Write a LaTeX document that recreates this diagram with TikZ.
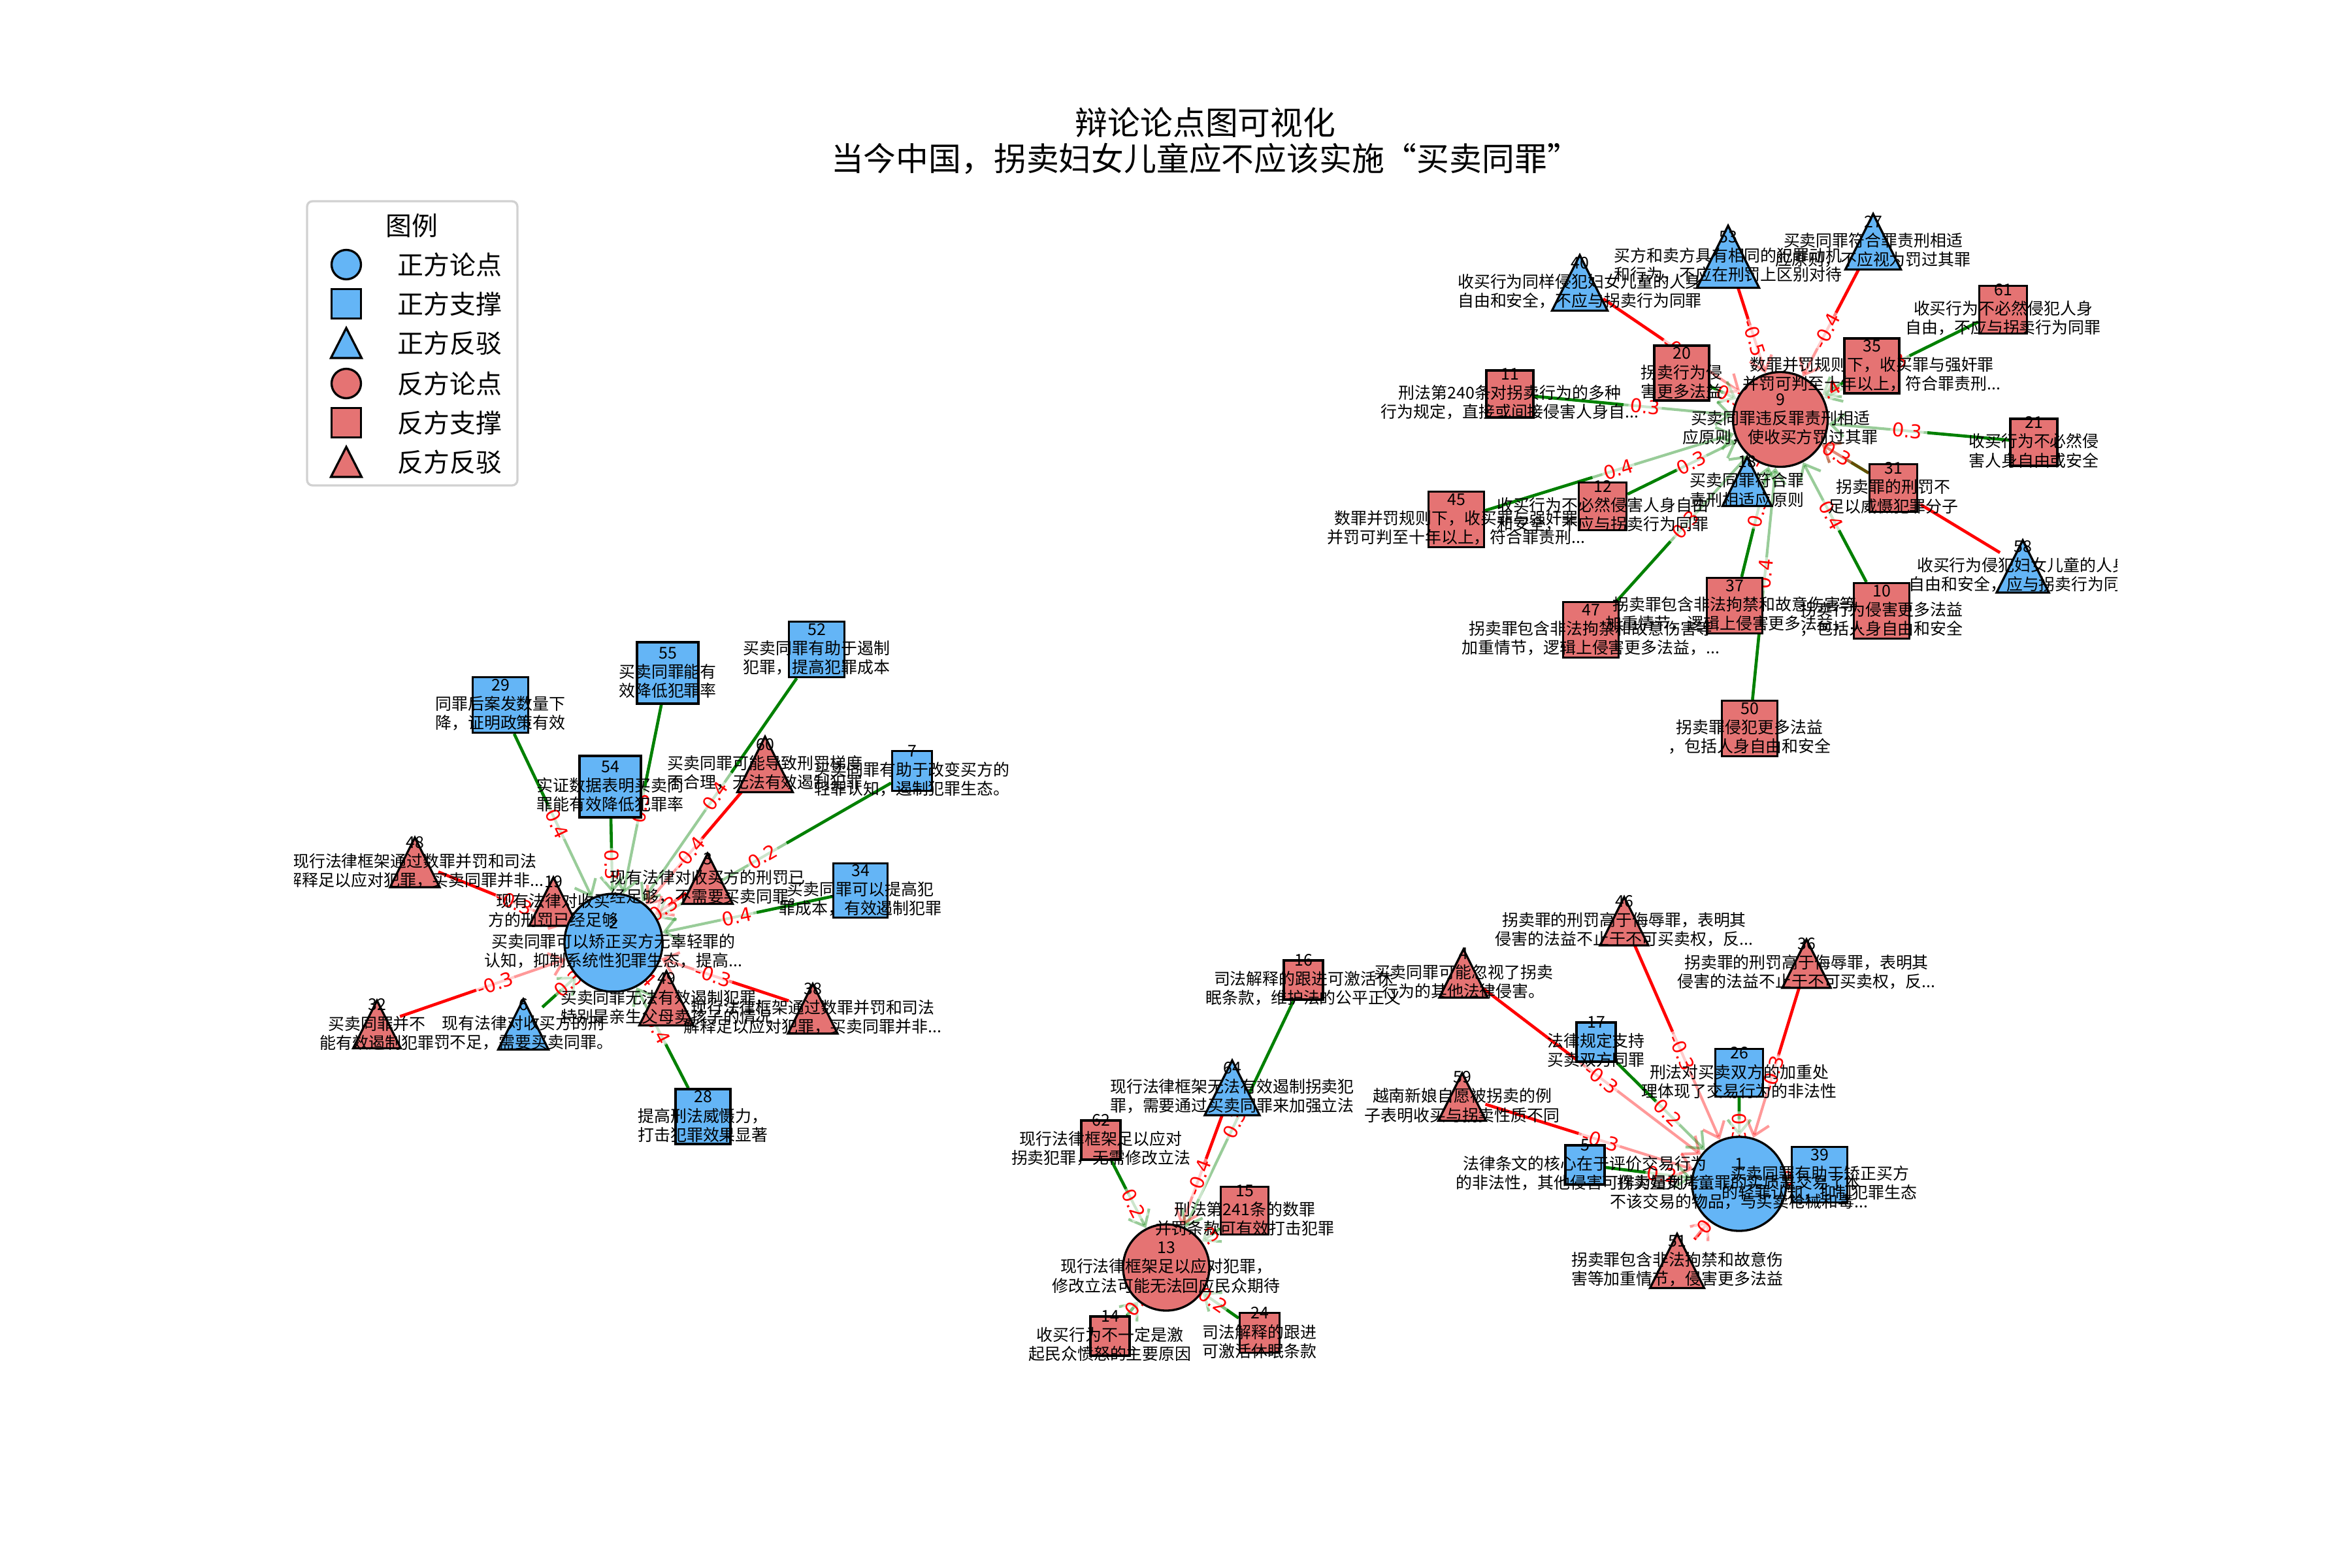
\documentclass[tikz,border=0pt]{standalone}
\usepackage{fontspec}
\setmainfont{DejaVu Sans}
\newfontfamily\cjk{Noto Sans CJK SC}
\usepackage{xcolor}
\usepackage{tikz}
\usetikzlibrary{calc, arrows.meta}

\definecolor{problue}{HTML}{64B5F6}
\definecolor{conred}{HTML}{E57373}
\definecolor{supportgreen}{HTML}{008000}
\definecolor{attackred}{HTML}{FF0000}

\pgfdeclarelayer{edges}
\pgfsetlayers{edges,main}

\tikzset{
	argline/.style={draw=black, line width=0.8pt, line join=miter},
	argbox/.style={argline, rectangle, inner sep=0pt},
	argdisc/.style={argline, circle, inner sep=0pt},
	arghub/.style={circle, inner sep=0pt},
	argtext/.style={font=\cjk\fontsize{6}{7}\selectfont, align=center, inner sep=0pt},
	pale link/.style={line width=1pt, opacity=0.4, -{Straight Barb[length=1.8mm, width=3mm]}},
	dark link/.style={line width=1.1pt},
	link weight/.style={midway, sloped, text=attackred, font=\fontsize{7}{7}\selectfont, inner sep=0.6pt, fill=white, fill opacity=0.5, text opacity=1},
	legend text/.style={font=\cjk\fontsize{9.6}{10}\selectfont, anchor=west, inner sep=0pt}
}

% id, position, size, colour
\newcommand{\sqarg}[4]{\node[argbox, minimum size=#3*\scl, fill=#4] (arg #1) at (#2) {};}
\newcommand{\rdarg}[4]{\node[argdisc, minimum size=#3*\scl, fill=#4] (arg #1) at (#2) {};}
\newcommand{\triarg}[4]{%
	\node[arghub, minimum size=#3*\scl] (arg #1) at (#2) {};
	\filldraw[fill=#4, argline] ($(arg #1)+(0,-#3/2)$) -- ++(#3/2,#3) -- ++(-#3,0) -- cycle;}
% from, to, colour, weight
\newcommand{\argedge}[4]{%
	\draw[#3, pale link] (arg #1) -- (arg #2);
	\draw[#3, dark link] (arg #1) -- ($(arg #1)!0.42!(arg #2)$);
	\path (arg #1.center) -- (arg #2.center) node[link weight] {#4};}
\newcommand{\argtext}[3]{\node[argtext] at (arg #1) {#1\\#2\\#3};}

\begin{document}
\begin{tikzpicture}[x=0.8467cm, y=-0.8467cm]
	\def\scl{0.8467cm}
	\useasboundingbox (0,0) rectangle (36,24);
	
	\node[font=\cjk\fontsize{12}{13.2}\selectfont, align=center] (title) at (18.45,2.16) {辩论论点图可视化\\当今中国，拐卖妇女儿童应不应该实施“买卖同罪”};
	
	% legend
	\draw[draw=black!18, line width=0.8pt, rounded corners=2pt, fill=white] (4.70,3.08) rectangle (7.92,7.43);
	\node[font=\cjk\fontsize{9.6}{10}\selectfont] (legend title) at (6.30,3.45) {图例};
	\node[argdisc, fill=problue, minimum size=0.45*\scl] (key 1) at (5.30,4.05) {};
	\node[argbox, fill=problue, minimum size=0.45*\scl] (key 2) at (5.30,4.65) {};
	\filldraw[fill=problue, argline] (5.30,5.02) -- ++(0.235,0.46) -- ++(-0.47,0) -- cycle;
	\node[argdisc, fill=conred, minimum size=0.45*\scl] (key 4) at (5.30,5.87) {};
	\node[argbox, fill=conred, minimum size=0.45*\scl] (key 5) at (5.30,6.47) {};
	\filldraw[fill=conred, argline] (5.30,6.84) -- ++(0.235,0.46) -- ++(-0.47,0) -- cycle;
	\foreach \y/\txt [count=\i] in {4.05/正方论点, 4.65/正方支撑, 5.25/正方反驳, 5.87/反方论点, 6.47/反方支撑, 7.07/反方反驳}
		\node[legend text] (key text \i) at (6.08,\y) {\txt};
	
	% cluster round 9
	\triarg{40}{24.18,4.33}{0.85}{problue}
	\triarg{53}{26.45,3.93}{0.95}{problue}
	\triarg{27}{28.67,3.70}{0.85}{problue}
	\sqarg{61}{30.66,4.74}{0.73}{conred}
	\sqarg{20}{25.74,5.71}{0.84}{conred}
	\sqarg{35}{28.65,5.60}{0.84}{conred}
	\sqarg{11}{23.11,6.03}{0.72}{conred}
	\rdarg{9}{27.25,6.42}{1.45}{conred}
	\sqarg{21}{31.13,6.77}{0.72}{conred}
	\sqarg{45}{22.29,7.95}{0.85}{conred}
	\sqarg{12}{24.53,7.75}{0.73}{conred}
	\triarg{18}{26.74,7.37}{0.75}{problue}
	\sqarg{31}{28.98,7.47}{0.73}{conred}
	\triarg{58}{30.96,8.67}{0.80}{problue}
	\sqarg{47}{24.35,9.64}{0.85}{conred}
	\sqarg{37}{26.55,9.27}{0.85}{conred}
	\sqarg{10}{28.80,9.35}{0.85}{conred}
	\sqarg{50}{26.78,11.15}{0.85}{conred}
	
	% cluster round 2
	\sqarg{29}{7.66,10.79}{0.85}{problue}
	\sqarg{55}{10.22,10.30}{0.94}{problue}
	\sqarg{52}{12.50,9.94}{0.85}{problue}
	\sqarg{54}{9.34,12.04}{0.94}{problue}
	\triarg{60}{11.71,11.70}{0.85}{conred}
	\sqarg{7}{13.96,11.80}{0.61}{problue}
	\triarg{48}{6.35,13.20}{0.76}{conred}
	\triarg{19}{8.47,13.80}{0.74}{conred}
	\rdarg{2}{9.39,14.43}{1.50}{problue}
	\triarg{3}{10.83,13.45}{0.77}{conred}
	\sqarg{34}{13.17,13.63}{0.83}{problue}
	\triarg{49}{10.20,15.28}{0.83}{conred}
	\triarg{38}{12.44,15.44}{0.76}{conred}
	\triarg{32}{5.77,15.68}{0.73}{conred}
	\triarg{6}{8.01,15.68}{0.77}{problue}
	\sqarg{28}{10.76,17.09}{0.84}{problue}
	
	% cluster round 13
	\sqarg{16}{19.95,15.00}{0.60}{conred}
	\triarg{64}{18.86,16.65}{0.84}{problue}
	\sqarg{62}{16.85,17.45}{0.60}{conred}
	\sqarg{15}{19.05,18.53}{0.73}{conred}
	\rdarg{13}{17.85,19.40}{1.32}{conred}
	\sqarg{14}{16.99,20.45}{0.60}{conred}
	\sqarg{24}{19.28,20.40}{0.61}{conred}
	
	% cluster round 1
	\triarg{46}{24.86,14.10}{0.74}{conred}
	\triarg{36}{27.65,14.75}{0.74}{conred}
	\triarg{4}{22.40,14.90}{0.74}{conred}
	\sqarg{17}{24.43,15.95}{0.60}{problue}
	\triarg{59}{22.38,16.79}{0.73}{conred}
	\sqarg{26}{26.62,16.42}{0.73}{problue}
	\sqarg{5}{24.26,17.83}{0.60}{problue}
	\rdarg{1}{26.62,18.12}{1.44}{problue}
	\sqarg{39}{27.85,17.98}{0.85}{problue}
	\triarg{51}{25.67,19.30}{0.83}{conred}
	
	\begin{pgfonlayer}{edges}
		\argedge{40}{9}{attackred}{-0.4}
		\argedge{53}{9}{attackred}{-0.5}
		\argedge{27}{9}{attackred}{-0.4}
		\argedge{61}{9}{supportgreen}{0.3}
		\argedge{20}{9}{supportgreen}{0.3}
		\argedge{35}{9}{supportgreen}{0.4}
		\argedge{11}{9}{supportgreen}{0.3}
		\argedge{21}{9}{supportgreen}{0.3}
		\argedge{31}{9}{supportgreen}{0.3}
		\argedge{45}{9}{supportgreen}{0.4}
		\argedge{12}{9}{supportgreen}{0.3}
		\argedge{18}{9}{attackred}{-0.3}
		\argedge{47}{9}{supportgreen}{0.3}
		\argedge{37}{9}{supportgreen}{0.3}
		\argedge{10}{9}{supportgreen}{0.4}
		\argedge{50}{9}{supportgreen}{0.4}
		\argedge{58}{9}{attackred}{-0.4}
		
		\argedge{52}{2}{supportgreen}{0.4}
		\argedge{55}{2}{supportgreen}{0.3}
		\argedge{29}{2}{supportgreen}{0.4}
		\argedge{54}{2}{supportgreen}{0.3}
		\argedge{60}{2}{attackred}{-0.4}
		\argedge{7}{2}{supportgreen}{0.2}
		\argedge{34}{2}{supportgreen}{0.4}
		\argedge{3}{2}{attackred}{-0.3}
		\argedge{19}{2}{attackred}{-0.3}
		\argedge{48}{2}{attackred}{-0.3}
		\argedge{32}{2}{attackred}{-0.3}
		\argedge{6}{2}{supportgreen}{0.3}
		\argedge{49}{2}{attackred}{-0.4}
		\argedge{38}{2}{attackred}{-0.3}
		\argedge{28}{2}{supportgreen}{0.4}
		
		\argedge{16}{13}{supportgreen}{0.3}
		\argedge{64}{13}{attackred}{-0.4}
		\argedge{62}{13}{supportgreen}{0.2}
		\argedge{15}{13}{supportgreen}{0.3}
		\argedge{14}{13}{supportgreen}{0.3}
		\argedge{24}{13}{supportgreen}{0.2}
		
		\argedge{46}{1}{attackred}{-0.3}
		\argedge{36}{1}{attackred}{-0.3}
		\argedge{4}{1}{attackred}{-0.3}
		\argedge{17}{1}{supportgreen}{0.2}
		\argedge{26}{1}{supportgreen}{0.3}
		\argedge{59}{1}{attackred}{-0.3}
		\argedge{5}{1}{supportgreen}{0.2}
		\argedge{39}{1}{supportgreen}{0.3}
		\argedge{51}{1}{attackred}{-0.4}
	\end{pgfonlayer}
	
	% labels, cut at the plot frame
	\begin{scope}
		\clip (4.5,2.88) rectangle (32.4,21.36);
		\argtext{40}{收买行为同样侵犯妇女儿童的人身}{自由和安全，不应与拐卖行为同罪}
		\argtext{53}{买方和卖方具有相同的犯罪动机}{和行为，不应在刑罚上区别对待}
		\argtext{27}{买卖同罪符合罪责刑相适}{应原则，不应视为罚过其罪}
		\argtext{61}{收买行为不必然侵犯人身}{自由，不应与拐卖行为同罪}
		\argtext{20}{拐卖行为侵}{害更多法益}
		\argtext{35}{数罪并罚规则下，收买罪与强奸罪}{并罚可判至十年以上，符合罪责刑...}
		\argtext{11}{刑法第240条对拐卖行为的多种}{行为规定，直接或间接侵害人身自...}
		\argtext{9}{买卖同罪违反罪责刑相适}{应原则，使收买方罚过其罪}
		\argtext{21}{收买行为不必然侵}{害人身自由或安全}
		\argtext{45}{数罪并罚规则下，收买罪与强奸罪}{并罚可判至十年以上，符合罪责刑...}
		\argtext{12}{收买行为不必然侵害人身自由}{和安全，不应与拐卖行为同罪}
		\argtext{18}{买卖同罪符合罪}{责刑相适应原则}
		\argtext{31}{拐卖罪的刑罚不}{足以威慑犯罪分子}
		\argtext{58}{收买行为侵犯妇女儿童的人身}{自由和安全，应与拐卖行为同罪}
		\argtext{47}{拐卖罪包含非法拘禁和故意伤害等}{加重情节，逻辑上侵害更多法益，...}
		\argtext{37}{拐卖罪包含非法拘禁和故意伤害等}{加重情节，逻辑上侵害更多法益，...}
		\argtext{10}{拐卖行为侵害更多法益}{，包括人身自由和安全}
		\argtext{50}{拐卖罪侵犯更多法益}{，包括人身自由和安全}
		
		\argtext{29}{同罪后案发数量下}{降，证明政策有效}
		\argtext{55}{买卖同罪能有}{效降低犯罪率}
		\argtext{52}{买卖同罪有助于遏制}{犯罪，提高犯罪成本}
		\argtext{54}{实证数据表明买卖同}{罪能有效降低犯罪率}
		\argtext{60}{买卖同罪可能导致刑罚梯度}{不合理，无法有效遏制犯罪}
		\argtext{7}{买卖同罪有助于改变买方的}{轻罪认知，遏制犯罪生态。}
		\argtext{48}{现行法律框架通过数罪并罚和司法}{解释足以应对犯罪，买卖同罪并非...}
		\argtext{19}{现有法律对收买}{方的刑罚已经足够}
		\argtext{2}{买卖同罪可以矫正买方无辜轻罪的}{认知，抑制系统性犯罪生态，提高...}
		\argtext{3}{现有法律对收买方的刑罚已}{经足够，不需要买卖同罪。}
		\argtext{34}{买卖同罪可以提高犯}{罪成本，有效遏制犯罪}
		\argtext{49}{买卖同罪无法有效遏制犯罪，}{特别是亲生父母卖孩子的情况}
		\argtext{38}{现行法律框架通过数罪并罚和司法}{解释足以应对犯罪，买卖同罪并非...}
		\argtext{32}{买卖同罪并不}{能有效遏制犯罪}
		\argtext{6}{现有法律对收买方的刑}{罚不足，需要买卖同罪。}
		\argtext{28}{提高刑法威慑力，}{打击犯罪效果显著}
		
		\argtext{16}{司法解释的跟进可激活休}{眠条款，维护法的公平正义}
		\argtext{64}{现行法律框架无法有效遏制拐卖犯}{罪，需要通过买卖同罪来加强立法}
		\argtext{62}{现行法律框架足以应对}{拐卖犯罪，无需修改立法}
		\argtext{15}{刑法第241条的数罪}{并罚条款可有效打击犯罪}
		\argtext{13}{现行法律框架足以应对犯罪，}{修改立法可能无法回应民众期待}
		\argtext{14}{收买行为不一定是激}{起民众愤怒的主要原因}
		\argtext{24}{司法解释的跟进}{可激活休眠条款}
		
		\argtext{46}{拐卖罪的刑罚高于侮辱罪，表明其}{侵害的法益不止于不可买卖权，反...}
		\argtext{36}{拐卖罪的刑罚高于侮辱罪，表明其}{侵害的法益不止于不可买卖权，反...}
		\argtext{4}{买卖同罪可能忽视了拐卖}{行为的其他法律侵害。}
		\argtext{17}{法律规定支持}{买卖双方同罪}
		\argtext{59}{越南新娘自愿被拐卖的例}{子表明收买与拐卖性质不同}
		\argtext{26}{刑法对买卖双方的加重处}{理体现了交易行为的非法性}
		\argtext{5}{法律条文的核心在于评价交易行为}{的非法性，其他侵害可作为量刑考...}
		\argtext{1}{拐卖妇女儿童罪的实质是交易了本}{不该交易的物品，与买卖枪械和毒...}
		\argtext{39}{买卖同罪有助于矫正买方}{的轻罪认知，抑制犯罪生态}
		\argtext{51}{拐卖罪包含非法拘禁和故意伤}{害等加重情节，侵害更多法益}
	\end{scope}
\end{tikzpicture}
\end{document}
